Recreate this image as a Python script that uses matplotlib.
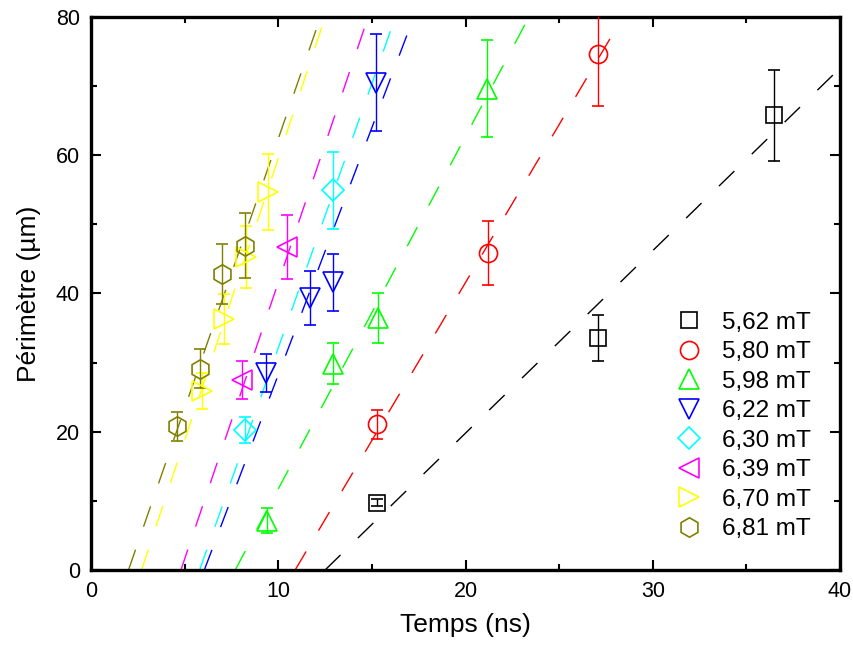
import numpy as np
import matplotlib
matplotlib.use("Agg")
import matplotlib.pyplot as plt

plt.rcParams["font.family"] = ["Liberation Sans", "DejaVu Sans"]

# field labels
labels = ["5,62 mT", "5,80 mT", "5,98 mT", "6,22 mT",
          "6,30 mT", "6,39 mT", "6,70 mT", "6,81 mT"]

# time (ns), perimeter (um), error (um) for each field
t_562 = [15.25, 27.1, 36.5]
p_562 = [9.7, 33.6, 65.75]
e_562 = [0.5, 3.3, 6.55]

t_580 = [15.25, 21.2, 27.05]
p_580 = [21.1, 45.85, 74.6]
e_580 = [2.1, 4.65, 7.5]

t_598 = [9.4, 12.9, 15.3, 21.15]
p_598 = [7.1, 29.85, 36.45, 69.65]
e_598 = [1.8, 2.95, 3.65, 6.95]

t_622 = [9.35, 11.7, 12.9, 15.2]
p_622 = [28.5, 39.3, 41.6, 70.5]
e_622 = [2.8, 3.9, 4.1, 7.05]

t_630 = [8.2, 12.9]
p_630 = [20.3, 54.9]
e_630 = [1.9, 5.5]

t_639 = [8.05, 10.45]
p_639 = [27.5, 46.7]
e_639 = [2.7, 4.6]

t_670 = [5.9, 7.1, 8.3, 9.47]
p_670 = [25.9, 36.3, 45.3, 54.7]
e_670 = [2.6, 3.6, 4.5, 5.5]

t_681 = [4.57, 5.82, 6.98, 8.22]
p_681 = [20.8, 29.1, 42.8, 46.9]
e_681 = [2.1, 2.8, 4.3, 4.7]

# linear fits: x intercept (ns) and slope (um/ns)
fit_x0 = [12.5, 10.9, 7.7, 6.05, 5.8, 4.8, 2.7, 2.0]
fit_slope = [2.64, 4.57, 5.1, 7.15, 7.65, 8.0, 8.16, 7.8]

times = [t_562, t_580, t_598, t_622, t_630, t_639, t_670, t_681]
perims = [p_562, p_580, p_598, p_622, p_630, p_639, p_670, p_681]
errors = [e_562, e_580, e_598, e_622, e_630, e_639, e_670, e_681]

colors = ["#000000", "#ff0000", "#00ff00", "#0000ff",
          "#00ffff", "#ff00ff", "#ffff00", "#808000"]
markers = ["s", "o", "^", "v", "D", "<", ">", "h"]
msizes = [11, 13, 15, 15, 11.5, 15, 15, 14]

fig = plt.figure(figsize=(8.54, 6.53), dpi=100)
ax = fig.add_axes([0.1066, 0.1271, 0.877, 0.8469])

for i in range(len(labels)):
    xx = np.array([fit_x0[i], 40.0])
    yy = fit_slope[i] * (xx - fit_x0[i])
    ln, = ax.plot(xx, yy, color=colors[i], lw=1.0, zorder=1)
    ln.set_dashes((15.5, 17.5))
    ax.errorbar(times[i], perims[i], yerr=errors[i], fmt=markers[i],
                color=colors[i], mfc="none", mec=colors[i], mew=1.2,
                ms=msizes[i], ecolor=colors[i], elinewidth=1.0,
                capsize=4.3, capthick=1.0, label=labels[i], zorder=3)

ax.set_xlim(0, 40)
ax.set_ylim(0, 80)
ax.set_xticks([0, 10, 20, 30, 40])
ax.set_xticks([5, 15, 25, 35], minor=True)
ax.set_yticks([0, 20, 40, 60, 80])
ax.set_yticks([10, 30, 50, 70], minor=True)
ax.tick_params(which="both", direction="in", top=True, right=True,
               width=1.5, labelsize=15.5, pad=8)
ax.tick_params(which="major", length=7)
ax.tick_params(which="minor", length=4)
for s in ax.spines.values():
    s.set_linewidth(2.4)

ax.set_xlabel("Temps (ns)", fontsize=19, labelpad=8)
ax.set_ylabel("Périmètre (µm)", fontsize=19, labelpad=11)

handles, labs = ax.get_legend_handles_labels()
handles = [h[0] for h in handles]
ax.legend(handles, labs, loc="lower right", bbox_to_anchor=(0.99, 0.014),
          frameon=False, fontsize=17.5, labelspacing=0.31, handletextpad=0.75,
          handlelength=1.2)

fig.savefig("out.png", dpi=100)
